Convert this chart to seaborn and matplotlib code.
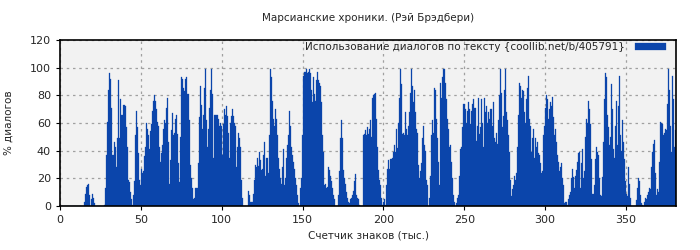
import numpy as np
import pandas as pd
import matplotlib
matplotlib.use("Agg")
import matplotlib.pyplot as plt
import seaborn as sns

title = "Марсианские хроники. (Рэй Брэдбери)"
series_name = "Использование диалогов по тексту {coollib.net/b/405791}"
x_label = "Счетчик знаков (тыс.)"
y_label = "% диалогов"
x_ticks = [0, 50, 100, 150, 200, 250, 300, 350]
y_ticks = [0, 20, 40, 60, 80, 100, 120]

# sample spacing along the text, thousand chars
step_k = 0.6185

seg1 = [0]*24 + [3, 9, 14, 15, 16, 8, 0, 5, 9, 6, 2] + [0]*9 + [1, 13, 37, 61, 84, 96, 92, 71]
seg2 = [37, 37, 46, 43, 28, 49, 91, 49, 77, 66, 66, 73, 73, 72, 57, 43, 19, 17, 10, 5, 1, 8, 18, 51, 69, 57,
        38, 19, 15, 27, 24, 25, 36, 43, 60, 56, 51, 41, 54, 59, 69, 76, 80, 76, 70, 61, 58, 43, 32, 38, 44, 56]
seg3 = [62, 60, 71, 78, 46, 16, 33, 55, 67, 51, 53, 63, 66, 52, 31, 17, 50, 93, 92, 85, 83, 92, 93, 81, 81, 62,
        30, 20, 13, 5, 6, 13, 13, 13, 31, 64, 87, 73, 56, 66, 85, 99, 62, 43, 56, 71, 84, 99, 81, 35, 66, 66]
seg4 = [66, 66, 63, 58, 60, 58, 37, 59, 70, 66, 72, 65, 53, 35, 60, 65, 70, 65, 60, 58, 28, 43, 53, 49, 43, 19,
        6, 0, 0, 0, 0, 0, 11, 8, 3, 3, 3, 9, 19, 30, 28, 35, 29, 39, 33, 26, 27, 37, 46, 22, 35, 35]
seg5 = [24, 51, 99, 93, 76, 63, 58, 70, 63, 51, 35, 27, 20, 16, 28, 41, 15, 20, 35, 44, 51, 69, 58, 43, 37, 32,
        27, 20, 15, 8, 2, 0, 13, 20, 51, 94, 97, 97, 99, 96, 97, 99, 96, 84, 75, 93, 81, 76, 91, 97, 91, 89]
seg6 = [87, 75, 51, 39, 15, 16, 13, 14, 28, 26, 22, 18, 13, 8, 5, 0, 0, 0, 8, 25, 49, 62, 49, 26, 20, 16,
        10, 6, 3, 2, 5, 6, 8, 11, 18, 23, 8, 6, 5, 1, 0, 0, 0, 51, 52, 55, 51, 57, 52, 56, 62, 50]
seg7 = [78, 80, 81, 82, 63, 43, 26, 19, 15, 6, 1, 3, 5, 1, 15, 27, 33, 27, 34, 34, 35, 39, 44, 39, 56, 42,
        60, 78, 99, 88, 52, 53, 51, 68, 56, 51, 58, 68, 82, 99, 87, 75, 84, 68, 56, 53, 30, 20, 25, 31, 49, 58]
seg8 = [44, 40, 19, 15, 0, 6, 22, 51, 62, 53, 85, 84, 63, 49, 32, 15, 89, 78, 93, 99, 99, 89, 77, 63, 56, 43,
        44, 32, 20, 8, 3, 0, 2, 6, 8, 22, 41, 43, 57, 74, 74, 70, 60, 69, 75, 70, 59, 69, 74, 77, 71, 71]
seg9 = [47, 58, 78, 52, 57, 77, 60, 43, 78, 68, 72, 60, 68, 63, 70, 70, 58, 75, 49, 46, 53, 45, 62, 80, 99, 82,
        57, 65, 84, 99, 68, 62, 51, 39, 19, 7, 12, 15, 22, 19, 24, 43, 66, 89, 87, 78, 84, 83, 68, 60, 77, 85]
seg10 = [94, 63, 58, 39, 49, 56, 35, 49, 43, 46, 38, 37, 31, 24, 25, 51, 58, 71, 80, 77, 63, 70, 75, 72, 79, 64,
         51, 56, 46, 37, 32, 25, 28, 31, 20, 15, 2, 3, 3, 1, 5, 8, 10, 20, 27, 21, 13, 22, 26, 32, 38, 39]
seg11 = [13, 31, 41, 20, 25, 50, 63, 60, 76, 70, 59, 34, 9, 9, 15, 34, 43, 39, 37, 20, 8, 7, 21, 46, 77, 96,
         93, 66, 57, 44, 50, 88, 70, 41, 35, 58, 76, 44, 72, 94, 51, 40, 62, 46, 34, 18, 9, 7, 28, 16, 6, 0]
seg12 = [0, 0, 0, 0, 4, 13, 20, 18, 8, 2, 1, 0, 3, 6, 5, 8, 10, 13, 12, 28, 39, 45, 48, 24, 8, 12,
         10, 32, 61, 60, 59, 51, 53, 56, 55, 74, 99, 84, 58, 39, 94, 77, 43, 55]

dialog_pct = seg1 + seg2 + seg3 + seg4 + seg5 + seg6 + seg7 + seg8 + seg9 + seg10 + seg11 + seg12
n = len(dialog_pct)
# centre of each sample window along the text
counter_k = (np.arange(n) + 0.5) * step_k

df = pd.DataFrame({"k": counter_k, "pct": dialog_pct})

sns.set_theme(style="white")
plt.rcParams["font.family"] = ["DejaVu Sans"]

fig = plt.figure(figsize=(7, 2.5), dpi=100)
ax = fig.add_axes([60/700, 1 - 206/250, 616/700, 166/250])
ax.set_facecolor("#f2f2f2")

blue = "#0b45ab"
sns.histplot(data=df, x="k", weights="pct", binwidth=step_k, binrange=(0, n * step_k),
             color=blue, alpha=1, edgecolor=blue, linewidth=0.2, ax=ax, label=series_name)

ax.set_xlim(0, n * step_k)
ax.set_ylim(0, 120)
ax.set_xticks(x_ticks)
ax.set_yticks(y_ticks)
ax.grid(True, color="#a0a0a0", linestyle=(0, (2, 3)), linewidth=0.9)
ax.set_axisbelow(True)
ax.tick_params(axis="both", labelsize=8, length=3, width=0.8, direction="out", color="black")
ax.tick_params(bottom=True, left=True)
for s in ax.spines.values():
    s.set_color("black")
    s.set_linewidth(1.2)

ax.set_title(title, fontsize=7.5, pad=14)
ax.set_xlabel(x_label, fontsize=7.5, labelpad=4)
ax.set_ylabel(y_label, fontsize=7.5, labelpad=12)

ax.legend(loc="upper right", bbox_to_anchor=(1.0, 1.045), frameon=False, markerfirst=False,
          fontsize=7.5, handlelength=3.0, handleheight=0.7, handletextpad=1.0,
          borderaxespad=0.8, borderpad=0.15)

fig.savefig("out.png", dpi=100, facecolor="white")
